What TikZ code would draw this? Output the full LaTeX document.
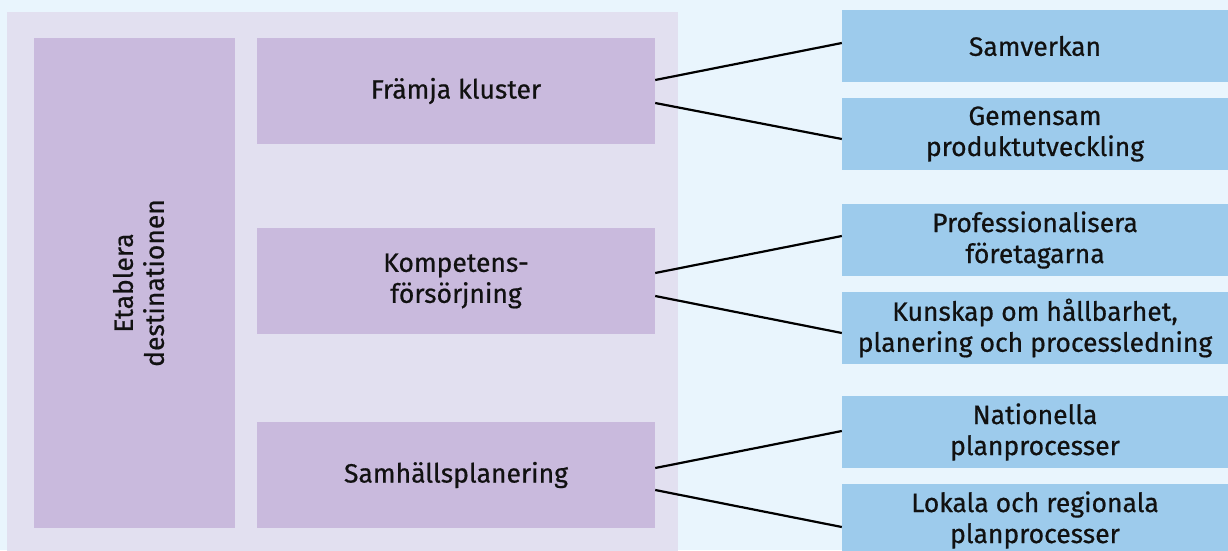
\documentclass[tikz,border=0pt]{standalone}
\usepackage{fontspec}
\setmainfont{Fira Sans}[FakeBold=0.6]
\definecolor{bgblue}{HTML}{E9F5FD}
\definecolor{panel}{HTML}{E2E0F0}
\definecolor{lilac}{HTML}{C9BADD}
\definecolor{skyblue}{HTML}{9DCBEC}
\definecolor{ink}{HTML}{111111}
\tikzset{
  label font/.style={text=ink, font=\fontsize{26.5}{31}\selectfont},
  goalbox/.style={fill=lilac, draw=none, minimum width=398pt, minimum height=106pt,
    inner sep=0pt, align=center, label font},
  mainbox/.style={fill=lilac, draw=none, minimum width=201pt, minimum height=490pt,
    inner sep=0pt},
  actbox/.style={fill=skyblue, draw=none, minimum width=386pt, minimum height=72pt,
    inner sep=0pt, align=center, label font},
  link/.style={draw=black, line width=2.2pt}
}
\begin{document}
\begin{tikzpicture}[x=1pt,y=-1pt]
  \useasboundingbox (0,0) rectangle (1228,550);
  \clip (0,0) rectangle (1228,550);
  \fill[bgblue] (0,0) rectangle (1228,550);
  \fill[panel] (7,12) rectangle (678,560);

  % left column
  \node[mainbox] (etab) at (134.5,283) {};
  \node[rotate=90, align=center, inner sep=0pt, label font]
    (etabtext) at ([xshift=4pt]etab.center) {Etablera\\destinationen};

  % middle column
  \node[goalbox] (fram) at (456,91) {Främja kluster};
  \node[goalbox] (komp) at (456,281) {Kompetens-\\försörjning};
  \node[goalbox] (samh) at (456,475) {Samhällsplanering};

  % right column
  \node[actbox] (samv) at (1035,46) {Samverkan};
  \node[actbox] (geme) at (1035,134) {Gemensam\\produktutveckling};
  \node[actbox] (prof) at (1035,240) {Professionalisera\\företagarna};
  \node[actbox] (kuns) at (1035,328) {Kunskap om hållbarhet,\\planering och processledning};
  \node[actbox] (nati) at (1035,432) {Nationella\\planprocesser};
  \node[actbox] (loka) at (1035,520) {Lokala och regionala\\planprocesser};

  % connectors
  \draw[link] ([yshift=11pt]fram.east) -- ([yshift=3pt]samv.west);
  \draw[link] ([yshift=-12pt]fram.east) -- ([yshift=-5pt]geme.west);
  \draw[link] ([yshift=8pt]komp.east) -- ([yshift=4pt]prof.west);
  \draw[link] ([yshift=-15pt]komp.east) -- ([yshift=-5pt]kuns.west);
  \draw[link] ([yshift=7pt]samh.east) -- ([yshift=1pt]nati.west);
  \draw[link] ([yshift=-15pt]samh.east) -- ([yshift=-7pt]loka.west);
\end{tikzpicture}
\end{document}
